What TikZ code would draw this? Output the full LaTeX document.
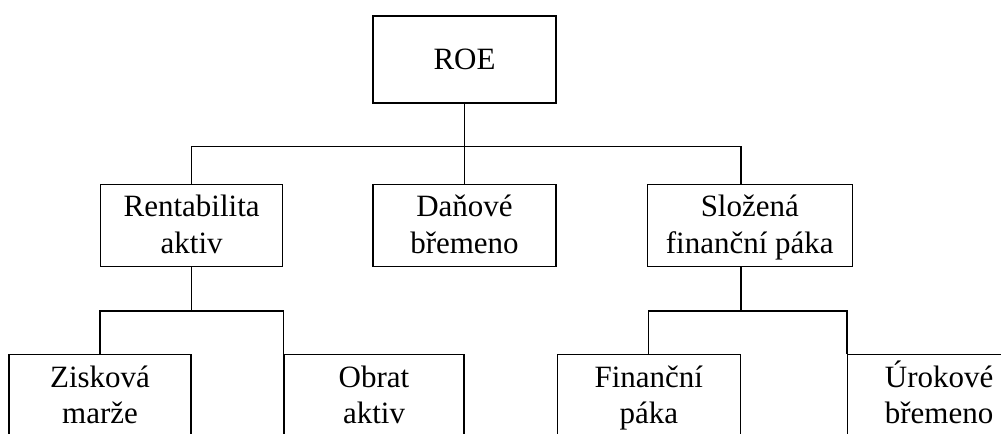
\documentclass[tikz,border=0pt]{standalone}
\usepackage{fontspec}
\setmainfont{Liberation Serif}
\usetikzlibrary{positioning}

% struts so that every two-line box sets its lines at the same height
\newcommand{\hiln}{\rule{0pt}{0.95em}}
\newcommand{\loln}{\rule[-0.378em]{0pt}{0.378em}}

\tikzset{
  box/.style={draw, line width=1pt, inner sep=0pt, align=center,
    minimum width=137.25pt, minimum height=61.5pt,
    font=\fontsize{23.25pt}{27.5pt}\selectfont},
  lowbox/.style={box, minimum height=63pt},
  conn/.style={line width=1pt},
}

\begin{document}
\begin{tikzpicture}

      \useasboundingbox (-348.4pt,44.6pt) rectangle (402.4pt,-280.9pt);
      \clip (-348.4pt,44.6pt) rectangle (402.4pt,-280.9pt);

      % Define nodes
      \node[box, minimum height=65.25pt]                               (roe)   {ROE};
      \node[box, below=60.4pt of roe]                                   (dan)   {\hiln Daňové\\břemeno\loln};
      \node[box, minimum width=136.5pt, left=66.75pt of dan]            (rent)  {\hiln Rentabilita\\aktiv\loln};
      \node[box, minimum width=153.75pt, right=67.5pt of dan]           (sloz)  {\hiln Složená\\finanční páka\loln};

      \node[lowbox, minimum width=136.5pt, below=64.9pt of rent.south, anchor=north east]   (zisk)  {\hiln Zisková\\marže\loln};
      \node[lowbox, minimum width=135pt, below=64.9pt of rent.south east, anchor=north west] (obrat) {\hiln Obrat\\aktiv\loln};
      \node[lowbox, below=64.9pt of dan.south east, anchor=north west]                      (fin)   {\hiln Finanční\\páka\loln};
      \node[lowbox, right=79.5pt of fin.north east, anchor=north west]                      (urok)  {\hiln Úrokové\\břemeno\loln};

      % Branch points
      \coordinate[below=32pt of roe.south]    (bar1);
      \coordinate[below=32.6pt of rent.south] (bar2);
      \coordinate (bar3) at (fin.north east |- bar2);

      % Connect the nodes
      \draw[conn] (roe) -- (dan);
      \draw[conn] (rent.north) |- (bar1) -| (bar3 |- sloz.north);
      \draw[conn] (rent) -- (bar2);
      \draw[conn] (zisk.north) |- (bar2) -| (obrat.north west);
      \draw[conn] (sloz.south -| bar3) -- (bar3);
      \draw[conn] (fin.north) |- (bar3) -| (urok.north west);

\end{tikzpicture}
\end{document}
